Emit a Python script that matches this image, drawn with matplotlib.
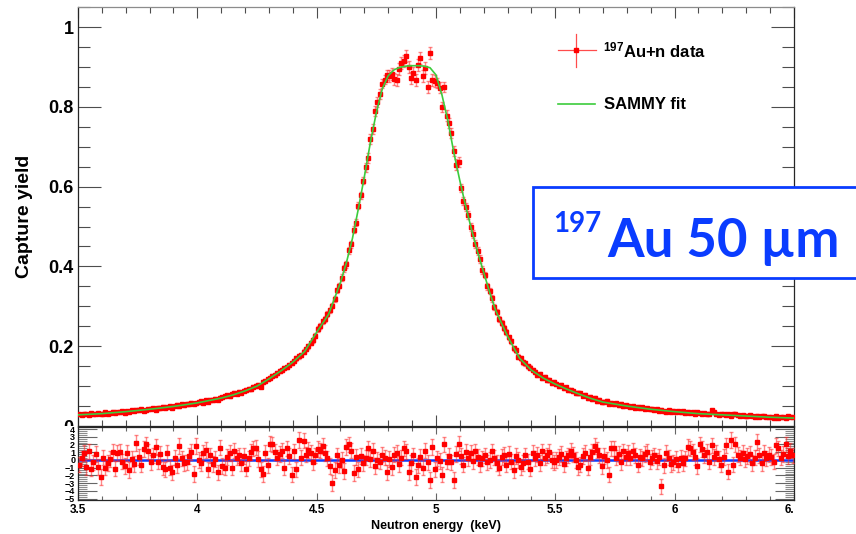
import numpy as np
import matplotlib.pyplot as plt
from matplotlib.ticker import MultipleLocator, FixedLocator, FixedFormatter
from matplotlib.patches import Rectangle

plt.rcParams['font.family'] = ['Liberation Sans', 'DejaVu Sans']
plt.rcParams['font.weight'] = 'bold'
plt.rcParams['mathtext.fontset'] = 'custom'
plt.rcParams['mathtext.rm'] = 'Liberation Sans:bold'
plt.rcParams['mathtext.it'] = 'Liberation Sans:bold'
plt.rcParams['mathtext.bf'] = 'Liberation Sans:bold'

# energy bins (keV), 10 eV wide
energy = np.arange(300) * 0.01 + 3.505

# measured capture yield, 10 bins per row (3.5 -> 6.5 keV)
yield_rows = [
    [0.029, 0.027, 0.031, 0.030, 0.028, 0.032, 0.029, 0.030, 0.033, 0.030],
    [0.031, 0.034, 0.030, 0.033, 0.036, 0.032, 0.035, 0.034, 0.037, 0.033],
    [0.038, 0.035, 0.040, 0.037, 0.041, 0.039, 0.043, 0.038, 0.040, 0.042],
    [0.043, 0.045, 0.041, 0.046, 0.044, 0.048, 0.045, 0.047, 0.050, 0.046],
    [0.050, 0.053, 0.049, 0.055, 0.052, 0.056, 0.054, 0.058, 0.055, 0.057],
    [0.059, 0.062, 0.058, 0.064, 0.061, 0.066, 0.064, 0.068, 0.066, 0.071],
    [0.072, 0.074, 0.077, 0.075, 0.080, 0.083, 0.081, 0.086, 0.084, 0.089],
    [0.090, 0.094, 0.092, 0.099, 0.101, 0.104, 0.099, 0.110, 0.113, 0.117],
    [0.121, 0.126, 0.129, 0.133, 0.137, 0.140, 0.146, 0.149, 0.153, 0.158],
    [0.163, 0.170, 0.175, 0.178, 0.186, 0.193, 0.200, 0.208, 0.215, 0.226],
    [0.243, 0.250, 0.262, 0.268, 0.281, 0.290, 0.302, 0.318, 0.340, 0.352],
    [0.372, 0.395, 0.405, 0.440, 0.455, 0.492, 0.510, 0.552, 0.578, 0.615],
    [0.648, 0.672, 0.720, 0.745, 0.790, 0.812, 0.832, 0.858, 0.868, 0.880],
    [0.876, 0.882, 0.870, 0.868, 0.895, 0.910, 0.915, 0.928, 0.900, 0.872],
    [0.885, 0.868, 0.905, 0.922, 0.878, 0.897, 0.850, 0.935, 0.868, 0.865],
    [0.860, 0.848, 0.800, 0.850, 0.778, 0.760, 0.735, 0.690, 0.655, 0.662],
    [0.597, 0.565, 0.548, 0.530, 0.500, 0.482, 0.455, 0.438, 0.418, 0.392],
    [0.378, 0.350, 0.338, 0.320, 0.298, 0.286, 0.268, 0.258, 0.246, 0.235],
    [0.222, 0.212, 0.195, 0.190, 0.174, 0.170, 0.160, 0.157, 0.150, 0.146],
    [0.140, 0.136, 0.128, 0.131, 0.121, 0.124, 0.115, 0.116, 0.108, 0.110],
    [0.106, 0.100, 0.103, 0.095, 0.097, 0.090, 0.091, 0.087, 0.082, 0.084],
    [0.082, 0.076, 0.078, 0.070, 0.073, 0.067, 0.070, 0.062, 0.066, 0.059],
    [0.061, 0.063, 0.056, 0.058, 0.054, 0.057, 0.052, 0.055, 0.050, 0.052],
    [0.051, 0.048, 0.050, 0.046, 0.048, 0.044, 0.047, 0.043, 0.045, 0.042],
    [0.043, 0.040, 0.042, 0.038, 0.041, 0.037, 0.036, 0.039, 0.035, 0.038],
    [0.036, 0.038, 0.034, 0.037, 0.033, 0.036, 0.032, 0.035, 0.031, 0.034],
    [0.032, 0.030, 0.033, 0.029, 0.031, 0.040, 0.034, 0.030, 0.028, 0.031],
    [0.029, 0.027, 0.030, 0.026, 0.029, 0.031, 0.027, 0.026, 0.028, 0.025],
    [0.024, 0.027, 0.025, 0.023, 0.026, 0.022, 0.024, 0.025, 0.022, 0.023],
    [0.023, 0.021, 0.024, 0.020, 0.022, 0.023, 0.021, 0.024, 0.022, 0.023],
]
capture_yield = np.array(yield_rows).ravel()

# yield uncertainty per 100 eV band
yield_err_band = [0.003, 0.003, 0.003, 0.0035, 0.0035, 0.004, 0.004, 0.0045, 0.005, 0.006,
                  0.007, 0.009, 0.012, 0.015, 0.015, 0.013, 0.010, 0.008, 0.006, 0.005,
                  0.0045, 0.004, 0.004, 0.0035, 0.0035, 0.003, 0.003, 0.003, 0.003, 0.003]
yield_err = np.repeat(yield_err_band, 10)

# SAMMY fit curve
fit_energy = [3.50, 3.60, 3.70, 3.80, 3.90, 4.00, 4.10, 4.15, 4.20, 4.25, 4.30, 4.35, 4.40,
              4.45, 4.50, 4.55, 4.60, 4.625, 4.65, 4.675, 4.70, 4.725, 4.75, 4.775, 4.80,
              4.825, 4.85, 4.875, 4.90, 4.925, 4.95, 4.975, 5.00, 5.025, 5.05, 5.075, 5.10,
              5.125, 5.15, 5.175, 5.20, 5.225, 5.25, 5.30, 5.35, 5.40, 5.45, 5.50, 5.55,
              5.60, 5.65, 5.70, 5.80, 5.90, 6.00, 6.10, 6.20, 6.30, 6.40, 6.50]
fit_yield = [0.028, 0.031, 0.036, 0.042, 0.049, 0.058, 0.070, 0.078, 0.088, 0.100, 0.118,
             0.138, 0.160, 0.187, 0.235, 0.280, 0.360, 0.410, 0.470, 0.545, 0.625, 0.710,
             0.785, 0.845, 0.878, 0.893, 0.899, 0.902, 0.903, 0.903, 0.902, 0.898, 0.880,
             0.830, 0.765, 0.685, 0.615, 0.550, 0.490, 0.435, 0.385, 0.335, 0.290, 0.225,
             0.170, 0.140, 0.120, 0.105, 0.092, 0.080, 0.069, 0.060, 0.050, 0.042, 0.036,
             0.031, 0.028, 0.025, 0.022, 0.020]

# normalised residuals (data - fit) / sigma
resid_rows = [
    [-0.6, 0.2, 0.9, -0.9, 1.1, -1.1, -0.3, 0.8, -0.9, -2.2],
    [0.3, -1.0, -0.4, 0.1, 1.0, -1.1, 0.9, 1.0, -0.2, -0.8],
    [0.9, -1.3, 0.1, -0.5, 2.2, 0.4, -0.6, 1.4, 2.0, 1.1],
    [-0.3, 0.6, 1.7, -0.2, 0.8, -0.9, -1.2, 0.9, -1.0, -1.6],
    [0.3, -0.7, 1.8, 0.2, -0.4, -0.3, 0.5, 1.0, -1.8, 1.8],
    [0.0, -0.4, 0.9, 1.3, -1.2, 0.6, -0.5, 0.1, -1.6, 1.6],
    [-0.8, -1.0, 0.4, 0.9, -1.0, 1.2, 0.3, 0.6, -0.4, 0.5],
    [-1.1, 0.2, 1.0, 1.5, 1.6, 0.1, -1.2, -1.8, 0.9, -0.7],
    [2.1, 2.0, 1.0, 0.3, 0.8, 1.2, -1.0, 1.5, 0.5, -1.9],
    [1.1, -1.2, 2.6, 0.3, 2.5, 0.7, 1.3, 0.9, -0.3, 0.6],
    [1.4, 1.2, 1.8, 0.9, 0.2, -0.8, -3.0, -1.3, 0.6, -0.7],
    [0.0, -1.4, 1.7, 2.0, 1.2, -1.7, 0.4, -1.2, 0.5, -0.4],
    [0.3, 1.5, 0.1, 1.2, -0.8, 0.0, -0.2, 0.7, 0.3, -1.6],
    [0.1, -0.9, 0.7, 0.9, -0.5, 0.3, 1.5, 1.1, -1.6, -0.4],
    [0.6, -2.2, -0.7, 0.4, -1.0, 1.2, -0.3, -2.6, 1.7, -1.2],
    [0.2, -0.1, -1.9, 2.0, -0.2, 0.5, -0.3, -2.6, 0.8, 2.1],
    [0.5, -0.6, 1.0, 0.2, 0.9, -0.1, 1.1, 0.4, -0.5, 0.2],
    [0.6, -0.3, 0.0, 1.1, 0.3, -0.4, -1.0, 0.4, 0.7, -0.6],
    [0.8, -0.2, -1.3, 0.5, 0.0, -0.9, -0.4, 0.6, -0.2, -1.1],
    [0.9, 0.2, 0.7, -0.4, 1.1, 0.3, 0.6, 1.0, 0.0, -0.3],
    [0.0, 0.4, 0.8, -0.5, 0.2, 0.6, 1.2, 0.7, 0.0, -0.9],
    [-0.6, 0.5, 0.9, -1.0, 0.4, 1.0, 1.8, 1.3, 0.6, -0.8],
    [0.5, 0.0, -1.9, 1.5, 1.5, 0.3, 0.8, -0.3, 1.1, 0.4],
    [0.9, 0.3, 1.2, 0.6, -0.6, 0.4, 0.2, 0.8, 1.0, -0.2],
    [0.3, 0.6, -0.1, 0.4, -3.4, -0.7, 0.9, 0.3, -0.5, -0.3],
    [0.1, -0.6, 0.3, -0.4, 0.2, 1.7, 1.5, 1.0, 0.4, -0.8],
    [2.0, 1.4, 0.6, 1.0, -0.2, 1.9, 0.4, 0.9, 0.1, -0.6],
    [0.4, 1.9, -1.5, 2.6, -0.6, 2.0, 0.7, 0.3, 0.9, 0.1],
    [0.5, 0.8, -0.4, 0.3, 2.3, 0.6, -0.4, 0.9, 0.2, 0.7],
    [0.4, -0.2, 1.9, 1.5, 0.3, 0.8, 2.0, 0.5, 1.2, 0.6],
]
residual = np.array(resid_rows).ravel()
resid_err = np.ones_like(residual)

red = '#ff0000'
bar_red = (1.0, 0.15, 0.15, 0.55)
green = '#3ccc3c'
blue = '#0a3cff'

fig = plt.figure(figsize=(8.56, 5.34), dpi=100)
ax = fig.add_axes([0.0911, 0.2022, 0.8364, 0.7846])
axr = fig.add_axes([0.0911, 0.0637, 0.8364, 0.1367])
axr.set_zorder(2)

# --- yield panel
ax.errorbar(energy, capture_yield, yerr=yield_err, fmt='s', color=red, ms=3.0,
            ecolor=bar_red, elinewidth=1.0, capsize=1.5, capthick=1.0, zorder=3)
ax.plot(fit_energy, fit_yield, color=green, lw=1.2, zorder=4)
ax.set_xlim(3.5, 6.5)
ax.set_ylim(0.0, 1.05)
ax.xaxis.set_major_locator(MultipleLocator(0.5))
ax.xaxis.set_minor_locator(MultipleLocator(0.1))
ax.set_xticklabels([])
ax.yaxis.set_major_locator(FixedLocator([0, 0.2, 0.4, 0.6, 0.8, 1.0]))
ax.yaxis.set_major_formatter(FixedFormatter(['0', '0.2', '0.4', '0.6', '0.8', '1']))
ax.yaxis.set_minor_locator(MultipleLocator(0.05))
ax.tick_params(which='both', direction='in', top=True, right=True, color='0.3', width=0.8)
ax.tick_params(axis='y', which='major', length=16.5, labelsize=13, pad=3)
ax.tick_params(axis='y', which='minor', length=8.5)
ax.tick_params(axis='x', which='major', length=8)
ax.tick_params(axis='x', which='minor', length=4)
ax.set_ylabel('Capture yield', fontsize=14, fontweight='bold')
ax.yaxis.set_label_coords(-0.063, 0.5)
for s in ax.spines.values():
    s.set_color('0.15')
    s.set_linewidth(0.9)
ax.spines['top'].set_color('0.55')

# legend entries
ax.plot([0.670, 0.723], [0.897, 0.897], color=red, lw=0.9, alpha=0.7, transform=ax.transAxes)
ax.plot([0.6955, 0.6955], [0.856, 0.935], color=red, lw=0.9, alpha=0.7, transform=ax.transAxes)
ax.plot([0.6955], [0.897], 's', color=red, ms=3, transform=ax.transAxes)
ax.plot([0.670, 0.722], [0.768, 0.768], color=green, lw=1.2, transform=ax.transAxes)
ax.text(0.733, 0.880, r'$^{197}$Au+n data', fontsize=12, fontweight='bold',
        transform=ax.transAxes, va='baseline')
ax.text(0.735, 0.756, 'SAMMY fit', fontsize=12, fontweight='bold',
        transform=ax.transAxes, va='baseline')

# hide the lower half of the zero label behind the residual pad
fig.patches.append(Rectangle((0.0, 0.186), 0.09, 0.0162, transform=fig.transFigure,
                             facecolor='white', edgecolor='none', zorder=1))

# --- residual panel
axr.axhline(0, color=blue, lw=1.8, zorder=2)
axr.errorbar(energy, residual, yerr=resid_err, fmt='s', color=red, ms=3.0,
             ecolor=bar_red, elinewidth=1.0, capsize=1.5, capthick=1.0, zorder=3)
axr.set_xlim(3.5, 6.5)
axr.set_ylim(-5.16, 4.26)
axr.xaxis.set_major_locator(FixedLocator([3.5, 4, 4.5, 5, 5.5, 6, 6.5]))
axr.xaxis.set_major_formatter(FixedFormatter(['3.5', '4', '4.5', '5', '5.5', '6', '6.']))
axr.xaxis.set_minor_locator(MultipleLocator(0.1))
axr.yaxis.set_major_locator(MultipleLocator(1))
axr.yaxis.set_minor_locator(MultipleLocator(0.25))
axr.tick_params(which='both', direction='in', top=True, right=True, color='0.4', width=0.8)
axr.tick_params(axis='y', which='major', length=13.5, labelsize=6.5, pad=2)
axr.tick_params(axis='y', which='minor', length=6.5, color='0.55')
axr.tick_params(axis='x', which='major', length=5, labelsize=8.5, pad=3)
axr.tick_params(axis='x', which='minor', length=3)
axr.get_xticklabels()[-1].set_ha('right')
axr.set_xlabel('Neutron energy  (keV)', fontsize=9, fontweight='bold', labelpad=3)
for s in axr.spines.values():
    s.set_color('0.15')
    s.set_linewidth(0.9)

# sample label box
fig.patches.append(Rectangle((0.6227, 0.4794), 0.40, 0.1704, transform=fig.transFigure,
                             facecolor='white', edgecolor=blue, lw=2.0, zorder=5))
fig.text(0.646, 0.5655, '197', fontsize=20, fontweight='bold', color=blue,
         family='Lato', va='baseline', zorder=6)
fig.text(0.709, 0.5187, 'Au 50 µm', fontsize=38, fontweight='bold', color=blue,
         family='Lato', va='baseline', zorder=6)

fig.savefig('out.png', dpi=100)
